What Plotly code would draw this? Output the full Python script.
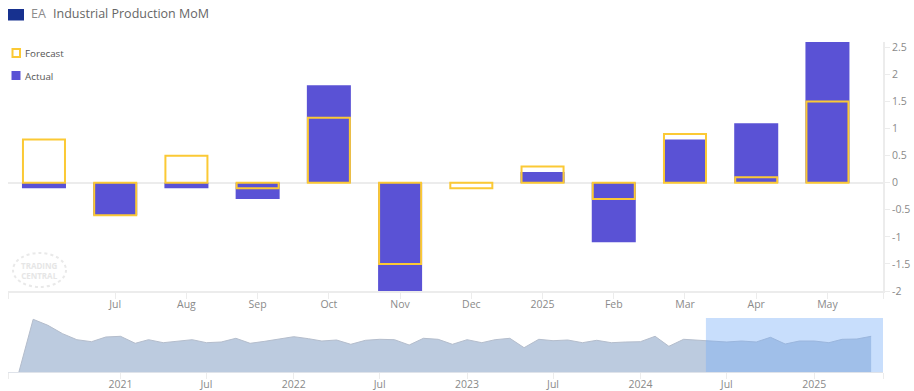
import plotly.graph_objects as go

W, H = 914, 391

# ---------- data ----------
bar_labels = ["", "Jul", "Aug", "Sep", "Oct", "Nov", "Dec", "2025", "Feb", "Mar", "Apr", "May"]
actual = [-0.1, -0.6, -0.1, -0.3, 1.8, -2.0, None, 0.2, -1.1, 0.8, 1.1, 2.6]
forecast = [0.8, -0.6, 0.5, -0.1, 1.2, -1.5, -0.1, 0.3, -0.3, 0.9, 0.1, 1.5]
y_ticks = [2.5, 2, 1.5, 1, 0.5, 0, -0.5, -1, -1.5, -2]
y_labels = ["2.5", "2", "1.5", "1", "0.5", "0", "-0.5", "-1", "-1.5", "-2"]

nav_start = "2020-06-01"
nav_values = [0, 52.7, 46.7, 38.3, 32.3, 30.3, 35, 35.7, 28.7, 32.3, 29.3, 30.7, 32.3, 29.3, 30,
              33.7, 28.7, 30.7, 32.7, 35.3, 33.3, 31, 32, 27.7, 31.7, 32.7, 32.3, 27, 33.7, 32.7,
              27.7, 32.3, 29.3, 32.3, 33.7, 24.3, 32.7, 31.3, 32, 29.3, 31.7, 29.3, 30, 30.3, 35.7,
              25.7, 32.7, 31.7, 30.3, 30, 31, 30, 34.7, 28, 31, 31, 29.3, 32.7, 33, 35.7]
nav_tick_dates = ["2021-01-01", "2021-07-01", "2022-01-01", "2022-07-01", "2023-01-01",
                  "2023-07-01", "2024-01-01", "2024-07-01", "2025-01-01"]
nav_tick_labels = ["2021", "Jul", "2022", "Jul", "2023", "Jul", "2024", "Jul", "2025"]
nav_range = ["2020-05-09", "2025-05-26"]
selection = ["2024-05-18", "2025-05-26"]

# ---------- styles ----------
PURPLE = "#5a52d5"
YELLOW = "#fbc935"
AXIS = "#ececec"
TICKTXT = "#8a8a8a"
FONT = "Open Sans"

idx = list(range(len(bar_labels)))
x_range = [-0.505, 11.78]
nav_dates = [f"{2020 + (5 + i) // 12}-{(5 + i) % 12 + 1:02d}-01" for i in range(len(nav_values))]
main_ticks = [x_range[0]] + idx[1:] + [x_range[1]]
nav_ticks = [nav_range[0]] + nav_tick_dates + [nav_range[1]]


def px(x):
    return x / W


def py(y):
    return 1 - y / H


fig = go.Figure()
fig.add_trace(go.Bar(x=idx, y=actual, name="Actual", width=0.618,
                     marker=dict(color=PURPLE, line=dict(width=0)), showlegend=False))
fig.add_trace(go.Bar(x=idx, y=forecast, name="Forecast", width=0.59,
                     marker=dict(color="rgba(0,0,0,0)", line=dict(color=YELLOW, width=2)),
                     showlegend=False))
fig.add_trace(go.Scatter(x=nav_dates, y=nav_values, xaxis="x2", yaxis="y2", mode="lines",
                         line=dict(color="#b4bdcc", width=1), fill="tozeroy",
                         fillcolor="#bccbdf", showlegend=False, hoverinfo="skip"))

shapes = [
    dict(type="rect", xref="x2", yref="y2 domain", x0=selection[0], x1=selection[1], y0=0, y1=1,
         fillcolor="rgba(117,172,247,0.4)", line=dict(width=0), layer="above"),
    dict(type="rect", xref="paper", yref="paper", x0=px(8), x1=px(24), y0=py(20.5), y1=py(9),
         fillcolor="#17318f", line=dict(width=0)),
    dict(type="rect", xref="paper", yref="paper", x0=px(12.5), x1=px(20), y0=py(57), y1=py(49),
         fillcolor="white", line=dict(color=YELLOW, width=2)),
    dict(type="rect", xref="paper", yref="paper", x0=px(11.5), x1=px(20.5), y0=py(80), y1=py(71),
         fillcolor=PURPLE, line=dict(width=0)),
    dict(type="circle", xref="paper", yref="paper", x0=px(13), x1=px(66), y0=py(287), y1=py(253),
         line=dict(color="#e9e9e9", width=2, dash="dot"), fillcolor="rgba(0,0,0,0)"),
]


def text(x, y, s, size, color, **kw):
    return dict(xref="paper", yref="paper", x=px(x), y=py(y), text=s, showarrow=False,
                xanchor="left", yanchor="middle", align="left",
                font=dict(family=FONT, size=size, color=color), **kw)


annotations = [
    text(29, 13, "EA", 12.5, "#8c8c8c"),
    text(51, 13, "Industrial Production MoM", 12.5, "#666666"),
    text(22.5, 53, "Forecast", 9.8, "#555555"),
    text(22.5, 76, "Actual", 9.8, "#555555"),
    dict(xref="paper", yref="paper", x=px(39.5), y=py(270), text="<b>TRADING<br>CENTRAL</b>",
         showarrow=False, xanchor="center", yanchor="middle",
         font=dict(family=FONT, size=8, color="#e6e6e6")),
]

fig.update_layout(
    width=W, height=H, margin=dict(l=0, r=0, t=0, b=0, autoexpand=False),
    paper_bgcolor="white", plot_bgcolor="white",
    barmode="overlay", showlegend=False,
    font=dict(family=FONT, size=10.5, color=TICKTXT),
    shapes=shapes, annotations=annotations,
    xaxis=dict(domain=[px(8), px(883)], range=x_range, anchor="y", automargin=False,
               tickmode="array", tickvals=main_ticks, ticktext=[""] + bar_labels[1:] + [""],
               ticks="outside", ticklen=2, tickcolor=AXIS, tickwidth=1,
               minor=dict(tickmode="array", tickvals=main_ticks, ticks="outside", ticklen=6,
                          tickcolor=AXIS, tickwidth=1, showgrid=False),
               showgrid=False, zeroline=False, showline=True, linecolor=AXIS, linewidth=2,
               tickfont=dict(family=FONT, size=10.5, color=TICKTXT)),
    yaxis=dict(domain=[py(291), py(42)], range=[-2, 2.6], anchor="x", side="right", automargin=False,
               tickmode="array", tickvals=y_ticks, ticktext=y_labels,
               ticks="outside", ticklen=5, tickcolor=AXIS, tickwidth=1,
               showgrid=False, zeroline=True, zerolinecolor=AXIS, zerolinewidth=2,
               showline=True, linecolor=AXIS, linewidth=2,
               tickfont=dict(family=FONT, size=10.5, color=TICKTXT)),
    xaxis2=dict(domain=[px(8), px(883)], range=nav_range, type="date", anchor="y2", automargin=False,
                tickmode="array", tickvals=nav_ticks, ticktext=[""] + nav_tick_labels + [""],
                ticks="outside", ticklen=2, tickcolor=AXIS, tickwidth=1,
                minor=dict(tickmode="array", tickvals=nav_ticks, ticks="outside", ticklen=6,
                           tickcolor=AXIS, tickwidth=1, showgrid=False),
                showgrid=False, zeroline=False, showline=True, linecolor="#dfe3ea", linewidth=1,
                tickfont=dict(family=FONT, size=10.5, color=TICKTXT)),
    yaxis2=dict(domain=[py(372), py(318)], range=[0, 54], anchor="x2", visible=False, automargin=False),
)

fig.write_html("out.html", config=dict(displayModeBar=False),
               post_script="document.body.style.margin='0';document.body.style.overflow='hidden';")
